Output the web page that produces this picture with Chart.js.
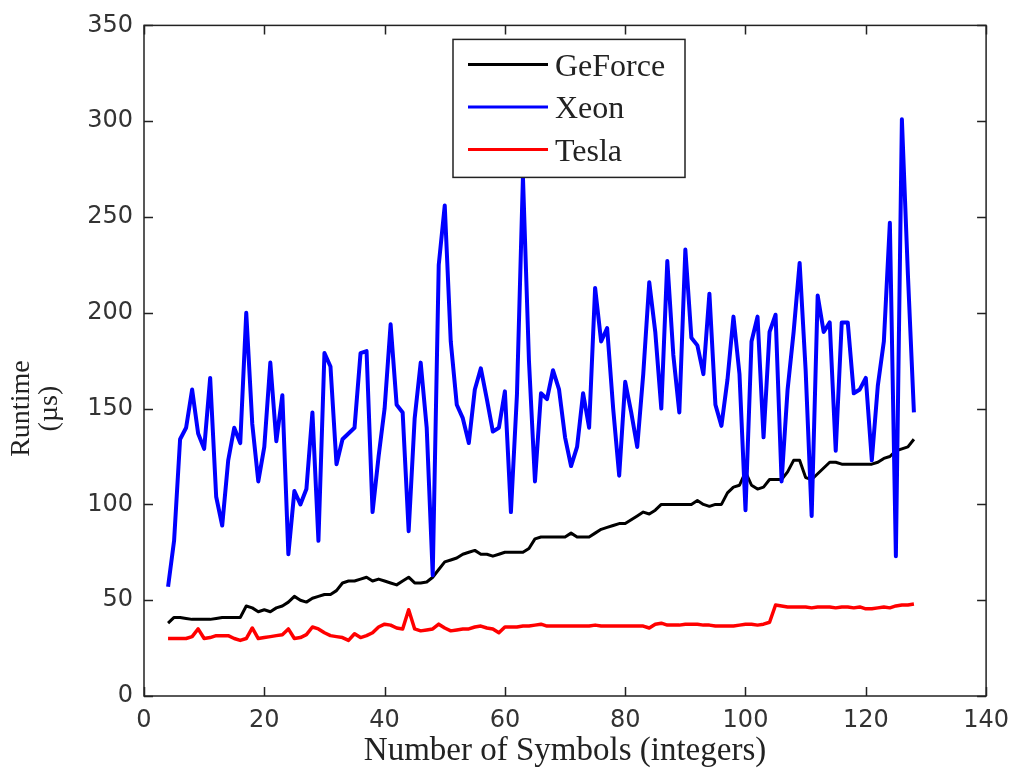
<!DOCTYPE html>
<html>
<head>
<meta charset="utf-8">
<script src="https://cdn.jsdelivr.net/npm/chart.js@4.4.1/dist/chart.umd.min.js"></script>
<style>
html, body { margin: 0; padding: 0; background: #fff; }
canvas { display: block; }
</style>
</head>
<body>
<canvas id="myChart" width="1019" height="777"></canvas>
<script>
// number of symbols on the x axis
var symbols = [
    4, 5, 6, 7, 8, 9, 10, 11, 12, 13,
    14, 15, 16, 17, 18, 19, 20, 21, 22, 23,
    24, 25, 26, 27, 28, 29, 30, 31, 32, 33,
    34, 35, 36, 37, 38, 39, 40, 41, 42, 43,
    44, 45, 46, 47, 48, 49, 50, 51, 52, 53,
    54, 55, 56, 57, 58, 59, 60, 61, 62, 63,
    64, 65, 66, 67, 68, 69, 70, 71, 72, 73,
    74, 75, 76, 77, 78, 79, 80, 81, 82, 83,
    84, 85, 86, 87, 88, 89, 90, 91, 92, 93,
    94, 95, 96, 97, 98, 99, 100, 101, 102, 103,
    104, 105, 106, 107, 108, 109, 110, 111, 112, 113,
    114, 115, 116, 117, 118, 119, 120, 121, 122, 123,
    124, 125, 126, 127, 128
];

// runtimes in microseconds
var geforce = [
    38, 41, 41, 40.5, 40, 40, 40, 40, 40.5, 41,
    41, 41, 41, 47, 46, 44, 45, 44, 46, 47,
    49, 52, 50, 49, 51, 52, 53, 53, 55, 59,
    60, 60, 61, 62, 60, 61, 60, 59, 58, 60,
    62, 59, 59, 59.5, 62, 66, 70, 71, 72, 74,
    75, 76, 74, 74, 73, 74, 75, 75, 75, 75,
    77, 82, 83, 83, 83, 83, 83, 85, 83, 83,
    83, 85, 87, 88, 89, 90, 90, 92, 94, 96,
    95, 97, 100, 100, 100, 100, 100, 100, 102, 100,
    99, 100, 100, 106, 109, 110, 117, 110, 108, 109,
    113, 113, 113, 117, 123, 123, 114, 113, 116, 119,
    122, 122, 121, 121, 121, 121, 121, 121, 122, 124,
    125, 128, 129, 130, 134
];

var xeon = [
    57, 81, 134, 140, 160, 137, 129, 166, 104, 89,
    123, 140, 132, 200, 142, 112, 130, 174, 133, 157,
    74, 107, 100, 108, 148, 81, 179, 172, 121, 134,
    137, 140, 179, 180, 96, 125, 150, 194, 152, 148,
    86, 145, 174, 140, 63, 225, 256, 185, 152, 145,
    132, 160, 171, 155, 138, 140, 159, 96, 157, 271,
    175, 112, 158, 155, 170, 160, 135, 120, 130, 158,
    140, 213, 185, 192, 150, 115, 164, 148, 130, 168,
    216, 190, 150, 227, 178, 148, 233, 187, 183, 168,
    210, 152, 141, 165, 198, 168, 97, 185, 198, 135,
    190, 199, 112, 160, 190, 226, 170, 94, 209, 190,
    195, 128, 195, 195, 158, 160, 166, 123, 162, 185,
    247, 73, 301, 220, 148
];

var tesla = [
    30, 30, 30, 30, 31, 35, 30, 30.5, 31.5, 31.5,
    31.5, 30, 29, 30, 35.5, 30, 30.5, 31, 31.5, 32,
    35, 30, 30.5, 32, 36, 35, 33, 31.5, 31, 30.5,
    29, 32.5, 30.5, 31.5, 33, 36, 37.5, 37, 35.5, 35,
    45, 35, 34, 34.5, 35, 37.5, 35.5, 34, 34.5, 35,
    35, 36, 36.5, 35.5, 35, 33, 36, 36, 36, 36.5,
    36.5, 37, 37.5, 36.5, 36.5, 36.5, 36.5, 36.5, 36.5, 36.5,
    36.5, 37, 36.5, 36.5, 36.5, 36.5, 36.5, 36.5, 36.5, 36.5,
    35.5, 37.5, 38, 37, 37, 37, 37.5, 37.5, 37.5, 37,
    37, 36.5, 36.5, 36.5, 36.5, 37, 37.5, 37.5, 37, 37.5,
    38.5, 47.5, 47, 46.5, 46.5, 46.5, 46.5, 46, 46.5, 46.5,
    46.5, 46, 46.5, 46.5, 46, 46.5, 45.5, 45.5, 46, 46.5,
    46, 47, 47.5, 47.5, 48
];

var seriesNames = ['GeForce', 'Xeon', 'Tesla'];
var seriesColors = ['#000000', '#0000ff', '#ff0000'];
var yTitle = ['Runtime', '(\u00b5s)'];

var tickFont = { family: 'DejaVu Sans', size: 24 };
var serif = 'Liberation Serif';

// box round the plot with inward ticks on all four sides
var frameTicks = {
    id: 'frameTicks',
    afterDatasetsDraw: function (chart) {
        var c = chart.ctx, a = chart.chartArea;
        var sx = chart.scales.x, sy = chart.scales.y, len = 9;
        c.save();
        c.strokeStyle = '#222';
        c.lineWidth = 1.5;
        c.strokeRect(a.left, a.top, a.right - a.left, a.bottom - a.top);
        c.beginPath();
        sx.ticks.forEach(function (t) {
            var p = Math.round(sx.getPixelForValue(t.value)) + 0.5;
            c.moveTo(p, a.bottom); c.lineTo(p, a.bottom - len);
            c.moveTo(p, a.top); c.lineTo(p, a.top + len);
        });
        sy.ticks.forEach(function (t) {
            var p = Math.round(sy.getPixelForValue(t.value)) + 0.5;
            c.moveTo(a.left, p); c.lineTo(a.left + len, p);
            c.moveTo(a.right, p); c.lineTo(a.right - len, p);
        });
        c.stroke();

        // y label sits a bit below the middle of the axis, as in the figure
        var cy = sy.getPixelForValue(150);
        c.translate(22, cy);
        c.rotate(-Math.PI / 2);
        c.font = '28px "' + serif + '"';
        c.fillStyle = '#222';
        c.textAlign = 'center';
        c.textBaseline = 'middle';
        c.fillText(yTitle[0], 0, 0);
        c.fillText(yTitle[1], 0, 28);
        c.restore();
    }
};

// matlab style legend box inside the plot
var boxLegend = {
    id: 'boxLegend',
    afterDraw: function (chart) {
        var c = chart.ctx, a = chart.chartArea;
        var left = a.left + 309, top = a.top + 14, w = 232, h = 138;
        c.save();
        c.fillStyle = '#fff';
        c.fillRect(left, top, w, h);
        c.strokeStyle = '#222';
        c.lineWidth = 1.5;
        c.strokeRect(left, top, w, h);
        c.font = '32px "' + serif + '"';
        c.textBaseline = 'middle';
        c.fillStyle = '#222';
        chart.data.datasets.forEach(function (ds, i) {
            var y = top + 25 + i * 42.5;
            c.strokeStyle = ds.borderColor;
            c.lineWidth = 3;
            c.beginPath();
            c.moveTo(left + 15, y);
            c.lineTo(left + 95, y);
            c.stroke();
            c.fillText(ds.label, left + 102, y + 3);
        });
        c.restore();
    }
};

var ctx = document.getElementById('myChart');

new Chart(ctx, {
    type: 'line',
    data: {
        labels: symbols,
        datasets: [
            { label: seriesNames[0], data: geforce, borderColor: seriesColors[0], borderWidth: 3, order: 3 },
            { label: seriesNames[1], data: xeon, borderColor: seriesColors[1], borderWidth: 4, order: 2 },
            { label: seriesNames[2], data: tesla, borderColor: seriesColors[2], borderWidth: 3.5, order: 1 }
        ]
    },
    options: {
        responsive: false,
        maintainAspectRatio: false,
        devicePixelRatio: 1,
        animation: false,
        layout: { padding: { left: 0, right: 29, top: 23, bottom: 0 } },
        elements: {
            point: { radius: 0 },
            line: { tension: 0, fill: false, borderJoinStyle: 'round' }
        },
        plugins: {
            legend: { display: false },
            tooltip: { enabled: false }
        },
        scales: {
            x: {
                type: 'linear',
                min: 0,
                max: 140,
                grid: { display: false, drawTicks: false },
                border: { display: false },
                ticks: { stepSize: 20, padding: 10, font: tickFont, color: '#333', maxRotation: 0 },
                title: {
                    display: true,
                    text: 'Number of Symbols (integers)',
                    font: { family: serif, size: 33 },
                    color: '#222',
                    padding: { top: 0, bottom: 6 }
                },
                afterFit: function (s) { s.height = 81; }
            },
            y: {
                min: 0,
                max: 350,
                grid: { display: false, drawTicks: false },
                border: { display: false },
                ticks: { stepSize: 50, padding: 11, font: tickFont, color: '#333' },
                title: { display: false },
                afterFit: function (s) { s.width = 144; }
            }
        }
    },
    plugins: [frameTicks, boxLegend]
});
</script>
</body>
</html>
